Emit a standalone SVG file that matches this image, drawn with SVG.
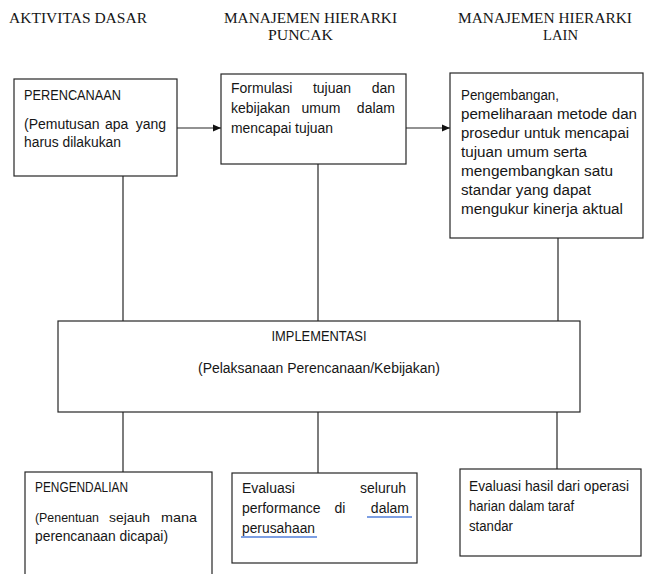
<svg xmlns="http://www.w3.org/2000/svg" width="645" height="574" viewBox="0 0 645 574">
<style>
.hdr{font-family:"Liberation Serif","Times New Roman",serif;font-size:15.5px;fill:#151515}
.t{font-family:"Liberation Sans",Arial,sans-serif;font-size:14px;fill:#161616}
.s{font-size:13px}
.box{fill:#fff;stroke:#262626;stroke-width:1.2}
.conn{stroke:#262626;stroke-width:1.2;fill:none}
.ul{stroke:#7d9fe3;stroke-width:2;fill:none}
</style>
<defs>
<marker id="ah" viewBox="0 0 8 8" refX="8" refY="4" markerWidth="8" markerHeight="8" markerUnits="userSpaceOnUse" orient="auto">
<path d="M0,0.5 L8,4 L0,7.5 z" fill="#111"/>
</marker>
</defs>
<rect width="645" height="574" fill="#fff"/>

<g id="headers">
<text class="hdr" x="9" y="23" textLength="138" lengthAdjust="spacingAndGlyphs">AKTIVITAS DASAR</text>
<text class="hdr" x="224" y="23" textLength="173" lengthAdjust="spacingAndGlyphs">MANAJEMEN HIERARKI</text>
<text class="hdr" x="268" y="40" textLength="65" lengthAdjust="spacingAndGlyphs">PUNCAK</text>
<text class="hdr" x="458" y="23" textLength="174" lengthAdjust="spacingAndGlyphs">MANAJEMEN HIERARKI</text>
<text class="hdr" x="543" y="40" textLength="35" lengthAdjust="spacingAndGlyphs">LAIN</text>
</g>

<g id="connectors">
<line class="conn" x1="177" y1="128" x2="221" y2="128" marker-end="url(#ah)"/>
<line class="conn" x1="406" y1="128" x2="450" y2="128" marker-end="url(#ah)"/>
<line class="conn" x1="123" y1="176" x2="123" y2="321"/>
<line class="conn" x1="318" y1="164" x2="318" y2="321"/>
<line class="conn" x1="558" y1="238" x2="558" y2="321"/>
<line class="conn" x1="123" y1="412" x2="123" y2="472"/>
<line class="conn" x1="318" y1="412" x2="318" y2="473"/>
<line class="conn" x1="557" y1="412" x2="557" y2="469"/>
</g>

<g id="perencanaan">
<rect class="box" x="14" y="79" width="163" height="97"/>
<text class="t" x="24" y="100" textLength="97" lengthAdjust="spacingAndGlyphs">PERENCANAAN</text>
<text class="t" y="129"><tspan x="24">(Pemutusan</tspan><tspan x="105">apa</tspan><tspan x="166" text-anchor="end">yang</tspan></text>
<text class="t" x="24" y="147" textLength="97" lengthAdjust="spacingAndGlyphs">harus dilakukan</text>
</g>

<g id="formulasi">
<rect class="box" x="221" y="74" width="185" height="90"/>
<text class="t" y="93"><tspan x="231">Formulasi</tspan><tspan x="332" text-anchor="middle">tujuan</tspan><tspan x="395" text-anchor="end">dan</tspan></text>
<text class="t" y="113"><tspan x="231">kebijakan</tspan><tspan x="321" text-anchor="middle">umum</tspan><tspan x="395" text-anchor="end">dalam</tspan></text>
<text class="t" x="231" y="133" textLength="102" lengthAdjust="spacingAndGlyphs">mencapai tujuan</text>
</g>

<g id="pengembangan">
<rect class="box" x="450" y="73" width="193" height="165"/>
<text class="t" x="461" y="100" textLength="98" lengthAdjust="spacingAndGlyphs">Pengembangan,</text>
<text class="t" x="461" y="119" textLength="176" lengthAdjust="spacingAndGlyphs">pemeliharaan metode dan</text>
<text class="t" x="461" y="138" textLength="168" lengthAdjust="spacingAndGlyphs">prosedur untuk mencapai</text>
<text class="t" x="461" y="157" textLength="126" lengthAdjust="spacingAndGlyphs">tujuan umum serta</text>
<text class="t" x="461" y="176" textLength="152" lengthAdjust="spacingAndGlyphs">mengembangkan satu</text>
<text class="t" x="461" y="195" textLength="130" lengthAdjust="spacingAndGlyphs">standar yang dapat</text>
<text class="t" x="461" y="214" textLength="162" lengthAdjust="spacingAndGlyphs">mengukur kinerja aktual</text>
</g>

<g id="implementasi">
<rect class="box" x="58" y="321" width="522" height="91"/>
<text class="t" x="319" y="341" text-anchor="middle" textLength="95" lengthAdjust="spacingAndGlyphs">IMPLEMENTASI</text>
<text class="t" x="319" y="373" text-anchor="middle" textLength="242" lengthAdjust="spacingAndGlyphs">(Pelaksanaan Perencanaan/Kebijakan)</text>
</g>

<g id="pengendalian">
<rect class="box" x="25" y="472" width="187" height="110"/>
<text class="t" x="35" y="492" textLength="93" lengthAdjust="spacingAndGlyphs">PENGENDALIAN</text>
<text class="t s" x="35" y="522" textLength="64" lengthAdjust="spacingAndGlyphs">(Penentuan</text>
<text class="t s" x="109" y="522" textLength="41" lengthAdjust="spacingAndGlyphs">sejauh</text>
<text class="t s" x="161" y="522" textLength="36" lengthAdjust="spacingAndGlyphs">mana</text>
<text class="t" x="35" y="541" textLength="133" lengthAdjust="spacingAndGlyphs">perencanaan dicapai)</text>
</g>

<g id="evaluasi-seluruh">
<rect class="box" x="232" y="473" width="185" height="90"/>
<text class="t" y="493"><tspan x="242">Evaluasi</tspan><tspan x="406" text-anchor="end">seluruh</tspan></text>
<text class="t" y="513"><tspan x="242">performance</tspan><tspan x="340" text-anchor="middle">di</tspan><tspan x="409" text-anchor="end">dalam</tspan></text>
<text class="t" x="242" y="533" textLength="73" lengthAdjust="spacingAndGlyphs">perusahaan</text>
<line class="ul" x1="367" y1="517" x2="412" y2="517"/>
<line class="ul" x1="241" y1="537" x2="317" y2="537"/>
</g>

<g id="evaluasi-hasil">
<rect class="box" x="460" y="469" width="181" height="87"/>
<text class="t" x="469" y="491" textLength="160" lengthAdjust="spacingAndGlyphs">Evaluasi hasil dari operasi</text>
<text class="t" x="469" y="511" textLength="105" lengthAdjust="spacingAndGlyphs">harian dalam taraf</text>
<text class="t" x="469" y="531" textLength="44" lengthAdjust="spacingAndGlyphs">standar</text>
</g>
</svg>
